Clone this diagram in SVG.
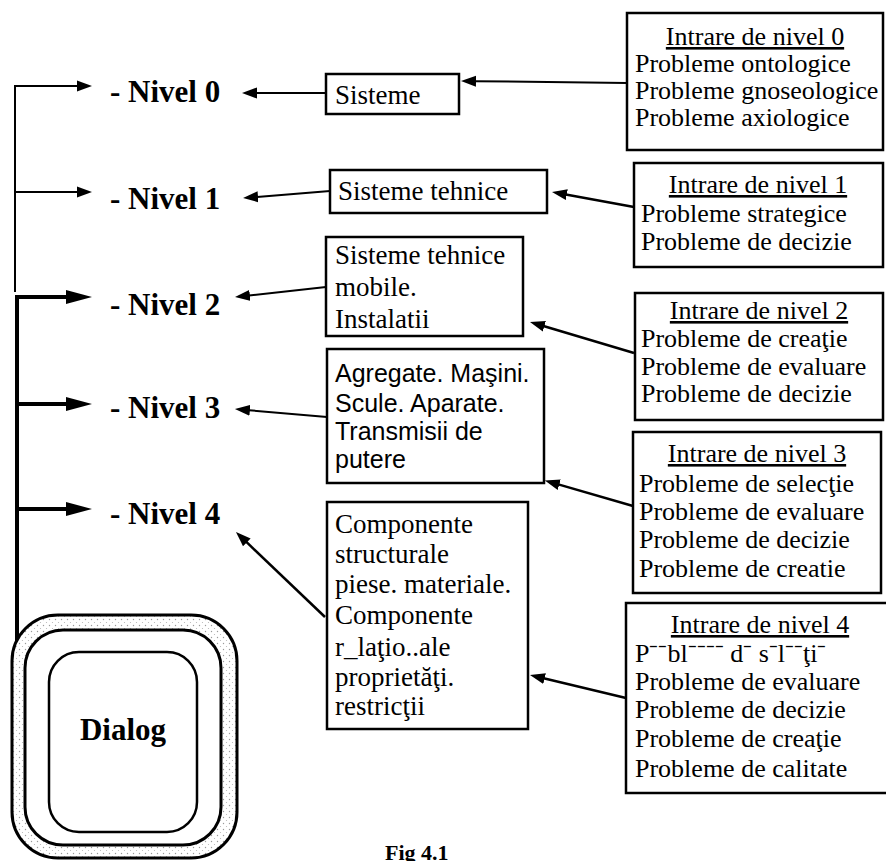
<svg xmlns="http://www.w3.org/2000/svg" width="886" height="861" viewBox="0 0 886 861">
  <style>
    .box { fill: #fff; stroke: #000; stroke-width: 2.5; }
    .t { font-family: "Liberation Serif", "Times New Roman", serif; font-size: 26px; fill: #000; }
    .tm { font-family: "Liberation Serif", "Times New Roman", serif; font-size: 27px; fill: #000; }
    .ts { font-family: "Liberation Sans", Arial, sans-serif; font-size: 25px; fill: #000; }
    .lvl { font-family: "Liberation Serif", "Times New Roman", serif; font-size: 31px; font-weight: bold; fill: #000; }
    .u { text-decoration: underline; }
    .mid { text-anchor: middle; }
    .c { fill: none; stroke: #000; stroke-linejoin: miter; }
    .thin { stroke-width: 2; }
    .med { stroke-width: 2.5; }
    .thick { stroke-width: 4; }
  </style>
  <defs>
    <marker id="hs" markerUnits="userSpaceOnUse" viewBox="-1 -6 16 12" markerWidth="16" markerHeight="12" refX="0" refY="0" orient="auto">
      <path d="M-1,-5.5 L14,0 L-1,5.5 Z" fill="#000"/>
    </marker>
    <marker id="hl" markerUnits="userSpaceOnUse" viewBox="-1 -8 27 16" markerWidth="27" markerHeight="16" refX="0" refY="0" orient="auto">
      <path d="M-1,-7 L25,0 L-1,7 Z" fill="#000"/>
    </marker>
    <pattern id="stipple" width="6" height="6" patternUnits="userSpaceOnUse">
      <rect width="6" height="6" fill="#fff"/>
      <circle cx="1.5" cy="1.5" r="0.7" fill="#9a9a9a"/>
      <circle cx="4.5" cy="4.5" r="0.6" fill="#b5b5b5"/>
    </pattern>
  </defs>

  <!-- connectors -->
  <g id="connectors">
    <!-- distribution bus from the dialog to the levels -->
    <path class="c thin" d="M15,292 V86 H78" marker-end="url(#hs)"/>
    <path class="c thin" d="M15,192 H78" marker-end="url(#hs)"/>
    <path class="c thick" d="M17,642 V297 H67" marker-end="url(#hl)"/>
    <path class="c thick" d="M17,404 H67" marker-end="url(#hl)"/>
    <path class="c thick" d="M17,509 H67" marker-end="url(#hl)"/>

    <!-- system boxes to level labels -->
    <path class="c thin" d="M326,93 L256,93" marker-end="url(#hs)"/>
    <path class="c thin" d="M330,191 L257,196.9" marker-end="url(#hs)"/>
    <path class="c thin" d="M326,287 L248.9,295.5" marker-end="url(#hs)"/>
    <path class="c thin" d="M327,417 L248.9,410.2" marker-end="url(#hs)"/>
    <path class="c med" d="M325,617 L246.1,541.7" marker-end="url(#hs)"/>

    <!-- level inputs to system boxes -->
    <path class="c thin" d="M627,83 L475,81.2" marker-end="url(#hs)"/>
    <path class="c med" d="M634,207 L565.8,194.5" marker-end="url(#hs)"/>
    <path class="c med" d="M634,353 L543.4,326" marker-end="url(#hs)"/>
    <path class="c med" d="M633,506 L558.3,484.4" marker-end="url(#hs)"/>
    <path class="c med" d="M626,698 L543.6,678.3" marker-end="url(#hs)"/>
  </g>

  <!-- level labels -->
  <g id="nivel-0"><text class="lvl" x="110" y="102">- Nivel 0</text></g>
  <g id="nivel-1"><text class="lvl" x="110" y="209">- Nivel 1</text></g>
  <g id="nivel-2"><text class="lvl" x="110" y="315">- Nivel 2</text></g>
  <g id="nivel-3"><text class="lvl" x="110" y="418">- Nivel 3</text></g>
  <g id="nivel-4"><text class="lvl" x="110" y="524">- Nivel 4</text></g>

  <!-- system boxes -->
  <g id="sisteme">
    <rect class="box" x="326" y="74" width="133" height="40"/>
    <text class="tm" x="335" y="104">Sisteme</text>
  </g>
  <g id="sisteme-tehnice">
    <rect class="box" x="330" y="170" width="217" height="43"/>
    <text class="tm" x="338" y="200">Sisteme tehnice</text>
  </g>
  <g id="sisteme-mobile">
    <rect class="box" x="326" y="237" width="197" height="99"/>
    <text class="tm" x="335" y="264">Sisteme tehnice</text>
    <text class="tm" x="335" y="296">mobile.</text>
    <text class="tm" x="335" y="328">Instalatii</text>
  </g>
  <g id="agregate">
    <rect class="box" x="327" y="349" width="217" height="134"/>
    <text class="ts" x="335" y="382">Agregate. Maşini.</text>
    <text class="ts" x="335" y="412">Scule. Aparate.</text>
    <text class="ts" x="335" y="440">Transmisii de</text>
    <text class="ts" x="335" y="468">putere</text>
  </g>
  <g id="componente">
    <rect class="box" x="327" y="502" width="201" height="227"/>
    <text class="tm" x="335" y="533">Componente</text>
    <text class="tm" x="335" y="563">structurale</text>
    <text class="tm" x="335" y="593">piese. materiale.</text>
    <text class="tm" x="335" y="624">Componente</text>
    <text class="tm" x="335" y="656">r_laţio..ale</text>
    <text class="tm" x="335" y="686">proprietăţi.</text>
    <text class="tm" x="335" y="715">restricţii</text>
  </g>

  <!-- level inputs -->
  <g id="intrare-0">
    <rect class="box" x="627" y="13" width="256" height="137"/>
    <text class="t u mid" x="755" y="45">Intrare de nivel 0</text>
    <text class="t" x="635" y="72">Probleme ontologice</text>
    <text class="t" x="635" y="99">Probleme gnoseologice</text>
    <text class="t" x="635" y="126">Probleme axiologice</text>
  </g>
  <g id="intrare-1">
    <rect class="box" x="634" y="163" width="249" height="104"/>
    <text class="t u mid" x="758" y="193">Intrare de nivel 1</text>
    <text class="t" x="641" y="222">Probleme strategice</text>
    <text class="t" x="641" y="250">Probleme de decizie</text>
  </g>
  <g id="intrare-2">
    <rect class="box" x="635" y="293" width="248" height="127"/>
    <text class="t u mid" x="759" y="319">Intrare de nivel 2</text>
    <text class="t" x="641" y="347">Probleme de creaţie</text>
    <text class="t" x="641" y="375">Probleme de evaluare</text>
    <text class="t" x="641" y="402">Probleme de decizie</text>
  </g>
  <g id="intrare-3">
    <rect class="box" x="633" y="432" width="248" height="161"/>
    <text class="t u mid" x="757" y="462">Intrare de nivel 3</text>
    <text class="t" x="639" y="492">Probleme de selecţie</text>
    <text class="t" x="639" y="520">Probleme de evaluare</text>
    <text class="t" x="639" y="548">Probleme de decizie</text>
    <text class="t" x="639" y="577">Probleme de creatie</text>
  </g>
  <g id="intrare-4">
    <rect class="box" x="626" y="603" width="266" height="190"/>
    <text class="t u mid" x="760" y="633">Intrare de nivel 4</text>
    <text class="t" x="635" y="662">P⁻⁻bl⁻⁻⁻⁻ d⁻ s⁻l⁻⁻ţi⁻</text>
    <text class="t" x="635" y="690">Probleme de evaluare</text>
    <text class="t" x="635" y="718">Probleme de decizie</text>
    <text class="t" x="635" y="747">Probleme de creaţie</text>
    <text class="t" x="635" y="777">Probleme de calitate</text>
  </g>

  <!-- dialog block: outer stippled frame and inner panel -->
  <g id="dialog">
    <rect x="12" y="615" width="225" height="243" rx="46" fill="url(#stipple)" stroke="#000" stroke-width="3"/>
    <rect x="25" y="630" width="196" height="215" rx="38" fill="#fff" stroke="#000" stroke-width="3"/>
    <rect x="49" y="652" width="148" height="180" rx="30" fill="#fff" stroke="#000" stroke-width="2.5"/>
    <text class="lvl mid" x="123" y="740">Dialog</text>
  </g>

  <!-- caption -->
  <g id="caption">
    <text x="385" y="860" font-family="Liberation Serif, serif" font-size="22" font-weight="bold">Fig 4.1</text>
  </g>
</svg>
